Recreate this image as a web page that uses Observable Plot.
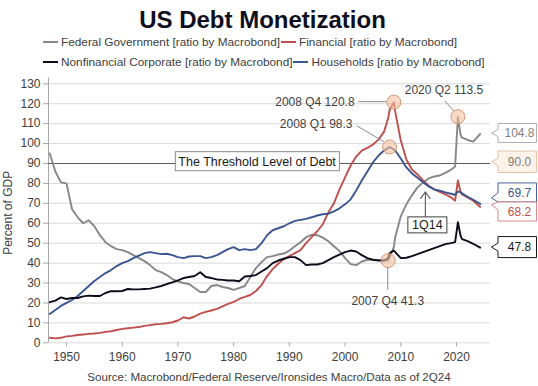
<!DOCTYPE html>
<html>
<head>
<meta charset="utf-8">
<script src="https://cdn.jsdelivr.net/npm/d3@7"></script>
<script src="https://cdn.jsdelivr.net/npm/@observablehq/plot@0.6"></script>
<style>
  body { margin: 0; background: #fff; font-family: "Liberation Sans", Arial, sans-serif; }
  #wrap { position: relative; width: 538px; height: 386px; overflow: hidden; background: #fff; }
  #title { position: absolute; left: 0; top: 8px; width: 525px; text-align: center; font-weight: bold; font-size: 24px; line-height: 24px; color: #10101c; }
  .sw { position: absolute; width: 15px; height: 2px; }
  .lt { position: absolute; font-size: 11.8px; line-height: 14px; color: #404040; white-space: nowrap; }
  #chart { position: absolute; left: 0; top: 72px; }
  #source { position: absolute; left: 0; top: 370px; width: 538px; text-align: center; font-size: 11.6px; line-height: 14px; color: #404040; }
</style>
</head>
<body>
<div id="wrap">
  <div id="title"></div>
  <div id="legend"></div>
  <div id="chart"></div>
  <div id="source"></div>
</div>
<script>
// ---------------- data ----------------
const titleText = "US Debt Monetization";
const sourceText = "Source: Macrobond/Federal Reserve/Ironsides Macro/Data as of 2Q24";
const yAxisLabel = "Percent of GDP";

const seriesNames = [
  "Federal Government [ratio by Macrobond]",
  "Financial [ratio by Macrobond]",
  "Nonfinancial Corporate [ratio by Macrobond]",
  "Households [ratio by Macrobond]"
];
const seriesColors = ["#878787", "#c0504d", "#0c0c1a", "#3a5590"];

const years = [
  1947,1948,1949,1950,1951,1952,1953,1954,1955,1956,
  1957,1958,1959,1960,1961,1962,1963,1964,1965,1966,
  1967,1968,1969,1970,1971,1972,1973,1974,1975,1976,
  1977,1978,1979,1980,1981,1982,1983,1984,1985,1986,
  1987,1988,1989,1990,1991,1992,1993,1994,1995,1996,
  1997,1998,1999,2000,2001,2002,2003,2004,2005,2006,
  2007,2007.75,2008,2008.75,2009,2010,2011,2012,2013,2014,
  2015,2016,2017,2018,2019,2019.75,2020.25,2020.75,2021,2022,
  2023,2024.25
];

const fedGov = [
  95,86,80.5,80,67,63,60,61.5,58.5,54,
  50.5,48.5,47,46.5,45.5,44,42.5,41,39,36.5,
  35.5,34,32,30.8,30,29.5,27.5,25.5,25.5,28.5,
  29,28,27.5,26.6,27.5,28.5,33,37.5,40.5,43,
  43.5,44.3,44.8,46.3,48.5,50.5,53,54.2,54,52.8,
  51,48.5,46,42.5,39.5,39,40.8,41.7,41.7,41.5,
  41.3,41.3,43,48,53,63.5,69.5,74,78,80.5,
  82.5,83.5,84,85.3,86.8,88.5,113.5,104,103,101.8,
  101,104.8
];

const financial = [
  2.5,2.2,2.5,3.2,3.5,3.9,4.2,4.5,4.7,5,
  5.5,5.8,6.4,7,7.3,7.6,7.9,8.5,8.9,9.3,
  9.5,9.8,10.3,11.2,12.8,12.2,13.2,14.6,15.5,16.2,
  17,18.3,19.5,20.5,22,23,24,26,29,33.5,
  37,39.7,42,43.5,45,46.5,50,53,56,59.5,
  65.5,70,77,83,89,93.5,96.5,97.8,99.5,102,
  106,113,117,120.8,116,101.5,92,87,84.5,81.5,
  78.8,77,75.8,74.5,73,71.3,81.5,75.5,74.5,73,
  71.3,68.2
];

const nonfinCorp = [
  20.4,21.2,22.8,22,22.5,22.5,23.3,23.7,23.5,23.5,
  25,25.9,25.9,26,27,26.8,26.8,27,27.2,27.8,
  28.5,29.5,30.3,31.3,32.5,33,33.5,35.4,33,32.5,
  31.8,31.6,31.3,31.3,30.9,33.3,33.5,34,35.8,37.5,
  40,41.3,42.2,43,43,41.5,39,39.3,39.3,40,
  41.5,43,44.3,45.5,46.3,45.8,44,42.5,41.7,41.3,
  41.3,42.5,45,46.3,45.5,42.5,42.7,43.5,44.5,45.5,
  46.5,47.5,48.5,49.5,50,50.5,60.5,53.5,52,51,
  49.7,47.8
];

const households = [
  14.5,16.5,18.5,20,21.5,23.5,26,28.5,31,33,
  35,36.5,38.5,40,41,42.5,43.8,45,45.5,45,
  44.5,44.7,44,43,42.5,43.3,43.5,43.5,42.5,43,
  44,45.5,47,48,46.5,47,46.5,47,50,54,
  56.5,57.5,58.5,60,61.2,61.7,62.2,63,63.9,64.5,
  64.8,66,67.5,69.5,72,76.5,81.5,86,90.5,94,
  96.5,97.8,98.3,97,96.5,92.5,88,85,82.8,80.6,
  78.5,77,76.3,75.5,74.8,74.3,76,75.5,75,73.3,
  71.8,69.7
];

const yTicks = [0,10,20,30,40,50,60,70,80,90,100,110,120,130];
const xTicks = [1950,1960,1970,1980,1990,2000,2010,2020];

const threshold = 90;
const thresholdLabel = "The Threshold Level of Debt";
const thresholdLabelYear = 1984.3;

const calloutLabels = ["2008 Q4 120.8", "2008 Q1 98.3", "2020 Q2 113.5", "2007 Q4 41.3"];
const calloutYears = [2008.75, 2008.0, 2020.25, 2007.75];
const calloutValues = [120.8, 98.3, 113.5, 41.3];

const arrowLabel = "1Q14";
const arrowYear = 2014.5;
const arrowValue = 75.5;

// ---------------- header / legend / footer ----------------
const FONT = '"Liberation Sans", Arial, sans-serif';
document.getElementById("title").textContent = titleText;
document.getElementById("source").textContent = sourceText;

const legendPos = [
  {sw: 43, tx: 61, top: 35},
  {sw: 281, tx: 299, top: 35},
  {sw: 43, tx: 61, top: 55},
  {sw: 293, tx: 311.5, top: 55}
];
const legend = document.getElementById("legend");
seriesNames.forEach((name, i) => {
  const p = legendPos[i];
  const s = document.createElement("div");
  s.className = "sw";
  s.style.left = p.sw + "px";
  s.style.top = (p.top + 6) + "px";
  s.style.background = seriesColors[i];
  legend.appendChild(s);
  const t = document.createElement("div");
  t.className = "lt";
  t.style.left = p.tx + "px";
  t.style.top = p.top + "px";
  t.textContent = name;
  legend.appendChild(t);
});

// ---------------- chart ----------------
const toRows = vals => years.map((year, i) => ({year, value: vals[i]}));
const seriesValues = [fedGov, financial, nonfinCorp, households];
const drawOrder = [0, 1, 3, 2];

const callouts = calloutLabels.map((label, i) => ({label, year: calloutYears[i], value: calloutValues[i]}));
const xDomain = [1946.77, 2026.1];

const chart = Plot.plot({
  width: 538,
  height: 296,
  marginLeft: 48,
  marginRight: 48,
  marginTop: 11.3,
  marginBottom: 25.7,
  style: {fontFamily: FONT, fontSize: "12px", background: "#fff", overflow: "visible"},
  x: {domain: xDomain, label: null},
  y: {domain: [0, 130], label: null},
  marks: [
    Plot.gridY({ticks: yTicks, stroke: "#d9d9d9", strokeOpacity: 1}),
    Plot.axisY({ticks: yTicks, tickSize: 5, tickPadding: 3, stroke: "#a6a6a6", strokeOpacity: 1, fill: "#404040", label: null}),
    Plot.axisX({ticks: xTicks, tickSize: 4, tickPadding: 6, stroke: "#a6a6a6", strokeOpacity: 1, fill: "#404040", tickFormat: d => String(d), label: null}),
    Plot.ruleX([xDomain[0]], {y1: 0, y2: 133, stroke: "#a6a6a6"}),
    Plot.ruleY([threshold], {stroke: "#595959", strokeWidth: 1}),
    ...drawOrder.map(i => Plot.line(toRows(seriesValues[i]), {
      x: "year", y: "value", stroke: seriesColors[i], strokeWidth: 1.9, strokeLinejoin: "round"
    })),
    Plot.dot(callouts, {x: "year", y: "value", r: 7, fill: "#f4c0a0", fillOpacity: 0.6, stroke: "#d39877", strokeWidth: 1})
  ]
});
document.getElementById("chart").appendChild(chart);

const sx = chart.scale("x"), sy = chart.scale("y");
const X = v => sx.apply(v), Y = v => sy.apply(v);
const svg = d3.select(chart);
const g = svg.append("g").attr("font-family", FONT);

// y-axis title
g.append("text")
  .attr("transform", `translate(12,${(Y(0) + Y(130)) / 2}) rotate(-90)`)
  .attr("text-anchor", "middle")
  .attr("font-size", 12)
  .attr("fill", "#404040")
  .text(yAxisLabel);

// threshold label with box
{
  const t = g.append("text")
    .attr("x", X(thresholdLabelYear))
    .attr("y", Y(threshold) - 1.8)
    .attr("dy", "0.35em")
    .attr("text-anchor", "middle")
    .attr("font-size", 12.5)
    .attr("fill", "#1a1a1a")
    .text(thresholdLabel);
  const bb = t.node().getBBox();
  g.insert("rect", () => t.node())
    .attr("x", bb.x - 3).attr("y", Y(threshold) - 1.8 - 9.5)
    .attr("width", bb.width + 6).attr("height", 19)
    .attr("fill", "#fff").attr("stroke", "#8c8c8c");
}

// callouts: leaders + labels
const calloutLayout = [
  {dx: -38.7, dy: 0, anchor: "end", leader: [[-35, 0], [-7, 0]]},
  {dx: -36.6, dy: -22.4, anchor: "end", leader: [[-32.3, -20.7], [-5.3, -4.7]]},
  {dx: -13.4, dy: -26.2, anchor: "middle", leader: [[-12.7, -15.5], [-3.7, -5.2]]},
  {dx: 0, dy: 40.3, anchor: "middle", leader: [[0, 7], [0, 30]]}
];
callouts.forEach((c, i) => {
  const L = calloutLayout[i];
  const px = X(c.year), py = Y(c.value);
  g.append("line")
    .attr("x1", px + L.leader[0][0]).attr("y1", py + L.leader[0][1])
    .attr("x2", px + L.leader[1][0]).attr("y2", py + L.leader[1][1])
    .attr("stroke", "#8c8c8c").attr("stroke-width", 1);
  g.append("text")
    .attr("x", px + L.dx).attr("y", py + L.dy)
    .attr("dy", "0.35em")
    .attr("text-anchor", L.anchor)
    .attr("font-size", 12)
    .attr("fill", "#404040")
    .text(c.label);
});

// 1Q14 arrow + box
{
  const ax = X(arrowYear), ay = Y(arrowValue);
  g.append("path")
    .attr("d", `M${ax},${ay + 25} L${ax},${ay} M${ax - 5},${ay + 7} L${ax},${ay} L${ax + 5},${ay + 7}`)
    .attr("fill", "none").attr("stroke", "#595959").attr("stroke-width", 1.1);
  g.append("rect")
    .attr("x", ax - 17.5).attr("y", ay + 25)
    .attr("width", 39).attr("height", 16)
    .attr("fill", "#fff").attr("stroke", "#404040");
  g.append("text")
    .attr("x", ax + 2).attr("y", ay + 33)
    .attr("dy", "0.36em")
    .attr("text-anchor", "middle")
    .attr("font-size", 12.5)
    .attr("fill", "#1a1a1a")
    .text(arrowLabel);
}

// end-of-series value labels
const endValues = [fedGov.at(-1), threshold, households.at(-1), financial.at(-1), nonfinCorp.at(-1)];
const endStyles = [
  {stroke: "#b0b0b0", fill: "#fff", text: "#7f7f7f", top: -10, bottom: 9, tip: -0.5, a: -4, b: 3},
  {stroke: "#e3c4ab", fill: "#fdf3ea", text: "#857a72", top: -12, bottom: 9.5, tip: -1, a: -5, b: 3},
  {stroke: "#4a6399", fill: "#fff", text: "#3a5590", top: -20.5, bottom: -1.5, tip: -5.5, a: -10.5, b: -1.5},
  {stroke: "#d98a87", fill: "#fff", text: "#c0504d", top: -4.4, bottom: 14.6, tip: -1.8, a: -4.4, b: 3.6},
  {stroke: "#1a1a1a", fill: "#fff", text: "#1a1a1a", top: -10.5, bottom: 10.5, tip: 0, a: -4, b: 4}
];
const bx0 = 498, bx1 = 536.5, tipX = 491.5;
endValues.forEach((v, i) => {
  const s = endStyles[i];
  const yv = Y(v);
  const y0 = yv + s.top, y1 = yv + s.bottom;
  g.append("path")
    .attr("d", `M${bx0},${y0} L${bx1},${y0} L${bx1},${y1} L${bx0},${y1} L${bx0},${yv + s.b} L${tipX},${yv + s.tip} L${bx0},${yv + s.a} Z`)
    .attr("fill", s.fill).attr("stroke", s.stroke).attr("stroke-width", 1);
  g.append("text")
    .attr("x", 519.5).attr("y", (y0 + y1) / 2)
    .attr("dy", "0.36em")
    .attr("text-anchor", "middle")
    .attr("font-size", 12)
    .attr("fill", s.text)
    .text(v.toFixed(1));
});
</script>
</body>
</html>
